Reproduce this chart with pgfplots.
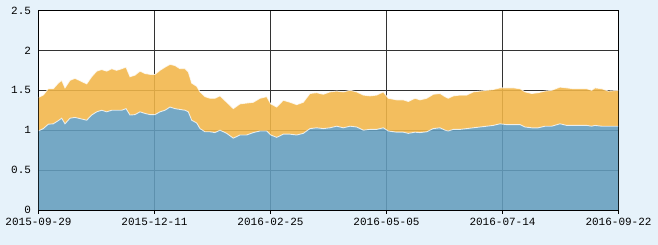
\documentclass[border=0pt]{standalone}
\usepackage{fontspec}
\setmainfont{Liberation Mono}
\usepackage{xcolor}
\usepackage{pgfplots}
\usepackage{pgfplotstable}
\pgfplotsset{compat=1.18}
\usepgfplotslibrary{fillbetween}
\definecolor{bgc}{HTML}{E6F2FA}
\definecolor{orangeC}{HTML}{F2B648}
\definecolor{blueC}{HTML}{639DBE}
\definecolor{gridC}{HTML}{333333}
\pgfplotstableread{
x a t
38.5 0.99 1.41
43.3 1.02 1.44
48.3 1.075 1.52
53.3 1.08 1.52
58.3 1.12 1.59
61.7 1.15 1.625
65 1.08 1.53
70 1.15 1.625
75 1.16 1.65
80 1.145 1.62
86.7 1.125 1.58
91.7 1.19 1.67
96.7 1.23 1.74
101.7 1.25 1.76
106.7 1.23 1.74
111.7 1.25 1.77
116.7 1.25 1.75
121.7 1.25 1.77
126 1.27 1.79
130 1.19 1.67
135 1.195 1.69
140 1.23 1.74
145 1.21 1.71
150 1.195 1.70
155 1.195 1.70
160 1.23 1.75
165 1.25 1.79
170 1.29 1.825
175 1.27 1.81
180 1.26 1.77
185 1.25 1.77
188.3 1.23 1.73
191.7 1.125 1.59
196.7 1.09 1.55
200 1.02 1.48
205 0.98 1.42
210 0.98 1.40
215 0.97 1.40
220 1.0 1.43
226.7 0.96 1.35
233.3 0.90 1.27
240 0.94 1.33
246.7 0.94 1.34
253.3 0.97 1.35
260 0.99 1.40
266.7 0.99 1.42
270.7 0.94 1.33
276.7 0.91 1.29
283.3 0.95 1.375
290 0.95 1.35
296.7 0.94 1.32
303.3 0.96 1.35
310 1.02 1.46
316.7 1.03 1.47
323.3 1.02 1.45
330 1.03 1.48
336.7 1.05 1.49
343.3 1.03 1.48
350 1.05 1.50
356.7 1.04 1.48
363.3 1.0 1.44
370 1.01 1.43
376.7 1.01 1.44
383.3 1.03 1.48
388.3 0.99 1.40
396.7 0.975 1.38
403.3 0.975 1.38
408.3 0.96 1.36
415 0.975 1.40
420 0.97 1.38
426.7 0.98 1.40
433.3 1.02 1.45
440 1.03 1.46
445 1.0 1.42
448.3 0.99 1.40
453.3 1.01 1.43
460 1.01 1.44
466.7 1.02 1.44
473.3 1.03 1.48
480 1.04 1.49
486.7 1.05 1.50
493.3 1.06 1.51
500 1.08 1.53
506.7 1.07 1.53
513.3 1.07 1.53
520 1.07 1.52
525 1.04 1.48
531.7 1.03 1.46
538.3 1.03 1.47
545 1.05 1.49
551.7 1.05 1.50
560 1.08 1.54
566.7 1.06 1.53
573.3 1.06 1.52
580 1.06 1.52
586.7 1.06 1.52
591.7 1.05 1.50
595 1.06 1.53
601.7 1.05 1.52
608.3 1.05 1.49
618.5 1.05 1.50
}\data
\begin{document}
\pagecolor{bgc}%
\begin{tikzpicture}
\begin{axis}[
  at={(0pt,0pt)}, anchor=south west,
  scale only axis, width=580pt, height=199.5pt,
  xmin=38.5, xmax=618.5, ymin=0, ymax=2.5,
  axis background/.style={fill=white},
  xtick={38.5,154.5,270.5,386.5,502.5,618.5},
  xticklabels={2015-09-29,2015-12-11,2016-02-25,2016-05-05,2016-07-14,2016-09-22},
  ytick={0,0.5,1,1.5,2,2.5},
  yticklabels={0,0.5,1,1.5,2,2.5},
  xtick pos=bottom, ytick pos=left,
  tick align=outside,
  major tick length=4pt,
  ytick style={draw=none},
  xtick style={black, line width=0.9pt},
  grid=major,
  major grid style={gridC, line width=0.9pt},
  axis line style={black, line width=0.9pt},
  tick label style={font=\fontsize{11}{13}\selectfont, text=black},
  xticklabel style={yshift=-1pt},
]
\addplot[name path=A, draw=none, forget plot] table[x=x,y=a]{\data};
\addplot[name path=T, draw=none, forget plot] table[x=x,y=t]{\data};
\addplot[fill=orangeC, fill opacity=0.88, draw=none] fill between[of=T and A];
\addplot[fill=blueC, fill opacity=0.88, draw=none] table[x=x,y=a]{\data} \closedcycle;
\addplot[white, line width=0.9pt, opacity=0.75] table[x=x,y=t]{\data};
\addplot[white, line width=0.9pt, opacity=0.75] table[x=x,y=a]{\data};
\draw[black, line width=0.9pt] (rel axis cs:0,0) rectangle (rel axis cs:1,1);
\end{axis}
\pgfresetboundingbox
\path[use as bounding box] (-38.5pt,-35pt) rectangle (619.5pt,210pt);
\end{tikzpicture}
\end{document}
